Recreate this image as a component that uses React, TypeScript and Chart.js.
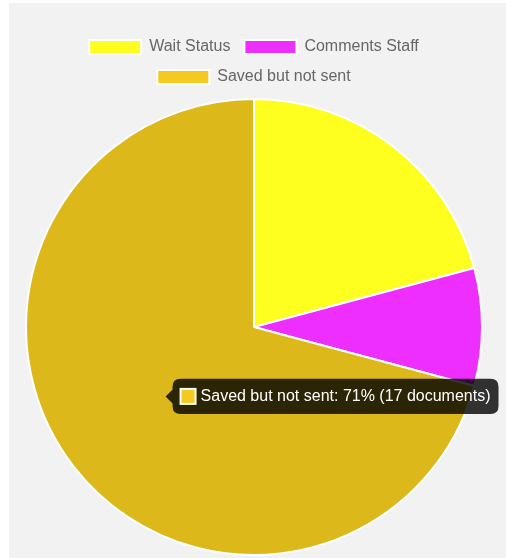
import React, { useEffect, useRef } from "react";
import { Chart, registerables } from "chart.js";

Chart.register(...registerables);

const labels = ["Wait Status", "Comments Staff", "Saved but not sent"];
const counts = [5, 2, 17];
const colors = ["#FFFF1F", "#EE2EFF", "#F4C920"];
const hoverColors = ["#FFFF1F", "#EE2EFF", "#DCB81A"];
const activeIndex = 2;

const legendGap = {
  id: "legendGap",
  beforeInit(chart: any) {
    const legend = chart.legend;
    if (!legend) return;
    const orig = legend.fit;
    legend.fit = function () {
      orig.call(this);
      this.height += 3;
    };
  },
};

export default function App() {
  const ref = useRef<HTMLCanvasElement>(null);
  useEffect(() => {
    const ctx = ref.current!;
    const font = "'Helvetica Neue', Helvetica, Arial, 'Liberation Sans', sans-serif";
    const total = counts.reduce((a, b) => a + b, 0);
    const chart = new Chart(ctx, {
      type: "pie",
      data: {
        labels,
        datasets: [
          {
            data: counts,
            backgroundColor: colors,
            hoverBackgroundColor: hoverColors,
            borderColor: "#ffffff",
            hoverBorderColor: "#ffffff",
            borderWidth: 2,
            hoverOffset: 0,
          },
        ],
      },
      plugins: [legendGap],
      options: {
        animation: false,
        responsive: false,
        maintainAspectRatio: false,
        layout: { padding: { top: 22, bottom: 2 } },
        plugins: {
          legend: {
            position: "top",
            labels: {
              color: "#666",
              font: { family: font, size: 16 },
              boxWidth: 52,
              boxHeight: 14,
              padding: 14,
            },
          },
          tooltip: {
            backgroundColor: "rgba(0,0,0,0.8)",
            bodyFont: { family: font, size: 16 },
            padding: 8,
            caretSize: 7,
            cornerRadius: 8,
            boxWidth: 15,
            boxHeight: 15,
            boxPadding: 3,
            callbacks: {
              title: () => "",
              label: (item: any) => {
                const v = item.raw as number;
                const pct = Math.round((v / total) * 100);
                return `${item.label}: ${pct}% (${v} documents)`;
              },
            },
          },
        },
      },
    });
    const els = [{ datasetIndex: 0, index: activeIndex }];
    chart.setActiveElements(els);
    const arc: any = chart.getDatasetMeta(0).data[activeIndex];
    const pos = arc.tooltipPosition();
    chart.tooltip!.setActiveElements(els, pos);
    chart.update();
    return () => chart.destroy();
  }, []);
  return (
    <div
      style={{
        position: "absolute",
        left: 9,
        top: 3,
        width: 497,
        height: 555,
        background: "#F2F2F2",
      }}
    >
      <canvas ref={ref} width={490} height={555} style={{ display: "block" }} />
    </div>
  );
}
